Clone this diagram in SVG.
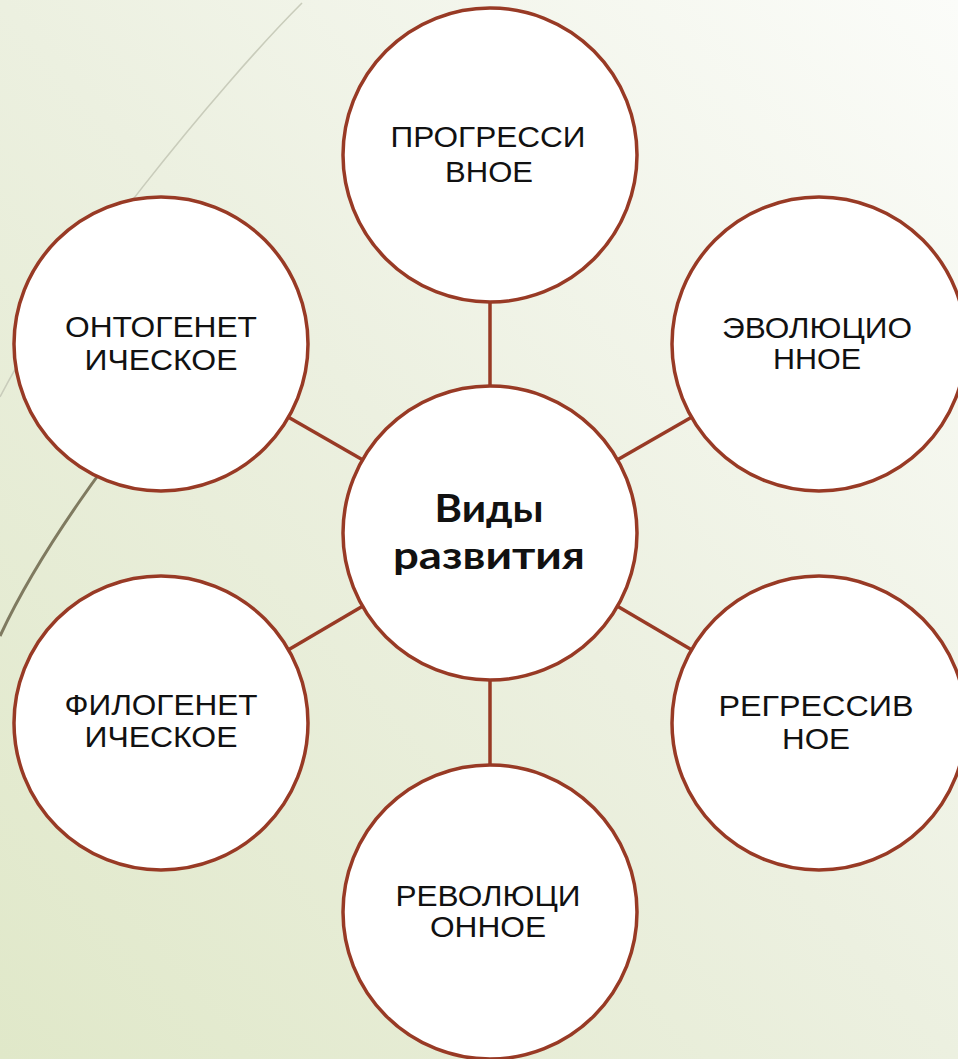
<svg xmlns="http://www.w3.org/2000/svg" width="958" height="1059" viewBox="0 0 958 1059">
<defs>
<linearGradient id="bg" x1="0" y1="1" x2="1" y2="0">
<stop offset="0" stop-color="#e0e8c9"/>
<stop offset="0.5" stop-color="#ecf0e0"/>
<stop offset="1" stop-color="#fbfcf9"/>
</linearGradient>
<style>
.node{fill:#ffffff;stroke:#983a25;stroke-width:3.5}
.conn line{stroke:#983a25;stroke-width:3.5}
.lbl{font-family:"Liberation Sans",Arial,sans-serif;font-size:30px;fill:#111111;text-anchor:middle}
.main{font-family:Lato,"Noto Sans",sans-serif;font-weight:700;font-size:39px;fill:#111111;text-anchor:middle}
</style>
</defs>
<rect x="0" y="0" width="958" height="1059" fill="url(#bg)"/>
<path d="M302 3 C220 85 60 280 0 397" fill="none" stroke="#c9ccbb" stroke-width="1.6"/>
<path d="M160 400 C120 440 40 550 0 636" fill="none" stroke="#7f7a60" stroke-width="3"/>
<g id="connectors" class="conn">
<line x1="490" y1="386" x2="490" y2="302"/>
<line x1="490" y1="680" x2="490" y2="765"/>
<line x1="617.5" y1="459.8" x2="691.5" y2="417.2"/>
<line x1="362.5" y1="459.8" x2="288.5" y2="417.2"/>
<line x1="617.5" y1="606.2" x2="691.5" y2="649.8"/>
<line x1="362.5" y1="606.2" x2="288.5" y2="649.8"/>
</g>
<g id="center">
<circle class="node" cx="490" cy="533" r="147"/>
<text class="main" x="489" y="522" textLength="109" lengthAdjust="spacingAndGlyphs">Виды</text>
<text class="main" x="489" y="569" textLength="192" lengthAdjust="spacingAndGlyphs">развития</text>
</g>
<g id="progressive">
<circle class="node" cx="490" cy="155" r="147"/>
<text class="lbl" x="488" y="147" textLength="195" lengthAdjust="spacingAndGlyphs">ПРОГРЕССИ</text>
<text class="lbl" x="489" y="182" textLength="88" lengthAdjust="spacingAndGlyphs">ВНОЕ</text>
</g>
<g id="evolutionary">
<circle class="node" cx="819" cy="344" r="147"/>
<text class="lbl" x="817" y="338" textLength="190" lengthAdjust="spacingAndGlyphs">ЭВОЛЮЦИО</text>
<text class="lbl" x="817" y="369" textLength="88" lengthAdjust="spacingAndGlyphs">ННОЕ</text>
</g>
<g id="regressive">
<circle class="node" cx="819" cy="723" r="147"/>
<text class="lbl" x="816" y="716" textLength="195" lengthAdjust="spacingAndGlyphs">РЕГРЕССИВ</text>
<text class="lbl" x="816" y="749" textLength="68" lengthAdjust="spacingAndGlyphs">НОЕ</text>
</g>
<g id="revolutionary">
<circle class="node" cx="490" cy="912" r="147"/>
<text class="lbl" x="488" y="906" textLength="185" lengthAdjust="spacingAndGlyphs">РЕВОЛЮЦИ</text>
<text class="lbl" x="488" y="937" textLength="116" lengthAdjust="spacingAndGlyphs">ОННОЕ</text>
</g>
<g id="phylogenetic">
<circle class="node" cx="161" cy="723" r="147"/>
<text class="lbl" x="161" y="715" textLength="193" lengthAdjust="spacingAndGlyphs">ФИЛОГЕНЕТ</text>
<text class="lbl" x="161" y="747" textLength="153" lengthAdjust="spacingAndGlyphs">ИЧЕСКОЕ</text>
</g>
<g id="ontogenetic">
<circle class="node" cx="161" cy="344" r="147"/>
<text class="lbl" x="161" y="337" textLength="192" lengthAdjust="spacingAndGlyphs">ОНТОГЕНЕТ</text>
<text class="lbl" x="161" y="370" textLength="153" lengthAdjust="spacingAndGlyphs">ИЧЕСКОЕ</text>
</g>
</svg>
